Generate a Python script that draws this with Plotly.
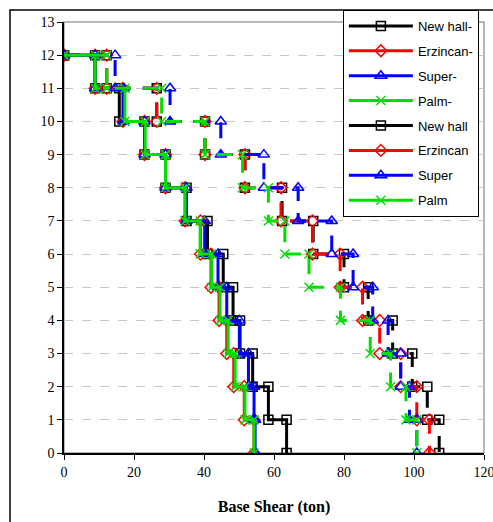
import plotly.graph_objects as go

storeys = list(range(12, 0, -1))  # storey 12 down to 1

# Storey shear (ton) for each storey 12..1 — negative direction series
new_hall_neg = [8.9, 15.8, 23.0, 29.0, 35.0, 41.0, 45.5, 48.3, 50.3, 53.9, 58.4, 63.6]
erzincan_neg = [8.9, 16.8, 23.0, 29.0, 34.6, 39.0, 42.0, 44.3, 46.5, 48.5, 51.5, 54.3]
super_neg    = [8.9, 17.0, 23.0, 29.0, 35.0, 40.2, 44.0, 46.5, 50.1, 52.7, 54.3, 54.6]
palm_neg     = [8.9, 17.4, 23.2, 29.0, 34.6, 38.9, 42.2, 44.6, 46.9, 48.9, 51.7, 54.3]

# positive direction series
new_hall = [12.2, 26.5, 40.3, 51.7, 62.3, 71.2, 80.0, 86.9, 93.9, 99.5, 103.8, 107.2]
erzincan = [12.2, 26.5, 40.3, 51.7, 62.0, 71.0, 78.9, 85.3, 90.2, 96.2, 100.8, 104.4]
super_   = [14.6, 30.3, 44.8, 57.1, 66.9, 76.5, 82.6, 88.2, 92.6, 96.2, 98.7, 100.8]
palm     = [12.2, 27.9, 40.3, 51.0, 58.4, 63.1, 70.0, 79.0, 87.5, 93.3, 97.7, 100.8]

names = ["New hall-", "Erzincan-", "Super-", "Palm-", "New hall", "Erzincan", "Super", "Palm"]
series = [new_hall_neg, erzincan_neg, super_neg, palm_neg, new_hall, erzincan, super_, palm]
colors = ["#000000", "#ff0000", "#0000ff", "#00e000"] * 2
symbols = ["square-open", "diamond-open", "triangle-up-open", "x-thin-open"] * 2
sizes = [9, 9, 10, 9] * 2


def step_path(vals):
    xs, ys = [0], [12]
    for s, v in zip(storeys, vals):
        xs += [v, v]
        ys += [s, s - 1]
    return xs, ys


fig = go.Figure()
for k, (nm, vals) in enumerate(zip(names, series)):
    xs, ys = step_path(vals)
    dashed = k >= 4
    marker = dict(symbol=symbols[k], size=sizes[k], color=colors[k],
                  line=dict(color=colors[k], width=1.5))
    fig.add_trace(go.Scatter(
        x=xs, y=ys, name=nm, mode="lines+markers",
        legendgroup=nm, showlegend=not dashed,
        line=dict(color=colors[k], width=3, dash="16px,12px" if dashed else "solid"),
        marker=marker,
    ))
    if dashed:
        # legend entry drawn with a solid sample line, as in the original
        fig.add_trace(go.Scatter(
            x=[None], y=[None], name=nm, mode="lines+markers", legendgroup=nm,
            line=dict(color=colors[k], width=3), marker=marker,
        ))

# plot-area frame (gray) and outer figure frame (black)
fig.add_shape(type="rect", xref="paper", yref="paper", x0=0, y0=0, x1=1, y1=1,
              line=dict(color="#a0a0a0", width=1.5), layer="below")
fig.add_shape(type="rect", xref="paper", yref="paper", x0=-0.1286, y0=-0.3, x1=1.2, y1=1.028,
              line=dict(color="#000000", width=1.5), layer="below")

fig.update_layout(
    width=493, height=522,
    margin=dict(l=64, r=9, t=22, b=69, autoexpand=False),
    paper_bgcolor="white", plot_bgcolor="white",
    showlegend=True,
    legend=dict(x=0.664, y=1.028, xanchor="left", yanchor="top",
                bordercolor="#000000", borderwidth=1, bgcolor="white",
                font=dict(family="Liberation Sans", size=13, color="#000000"),
                tracegroupgap=5, itemwidth=64),
    font=dict(family="Liberation Serif", size=13, color="#000000"),
)
fig.update_xaxes(range=[0, 120], dtick=20, showgrid=False, zeroline=False,
                 showline=True, linecolor="#000000", linewidth=1.5,
                 ticks="outside", ticklen=5, tickcolor="#000000",
                 ticklabeloverflow="allow",
                 tickfont=dict(family="Liberation Serif, Times New Roman, serif", size=14),
                 title=dict(text="<b>Base Shear (ton)</b>",
                            font=dict(family="Liberation Serif", size=16), standoff=22))
fig.update_yaxes(range=[0, 13], dtick=1, showgrid=True, gridcolor="#c8c8c8",
                 griddash="dash", gridwidth=1, zeroline=False,
                 showline=True, linecolor="#000000", linewidth=1.5,
                 ticks="outside", ticklen=5, tickcolor="#000000",
                 tickfont=dict(family="Liberation Serif, Times New Roman, serif", size=14))

fig.write_html("out.html", config={"displayModeBar": False},
               post_script="document.body.style.margin='0';")
